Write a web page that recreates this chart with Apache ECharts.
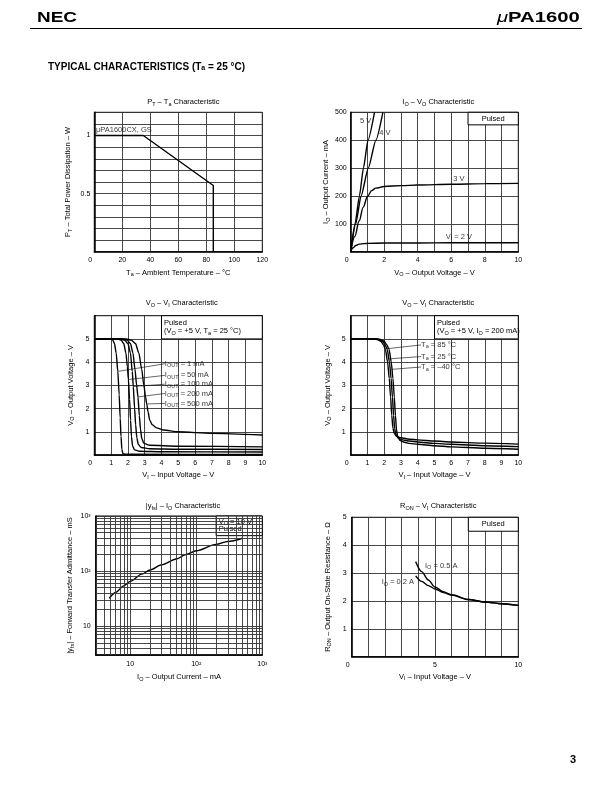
<!DOCTYPE html>
<html><head><meta charset="utf-8">
<script src="https://cdn.jsdelivr.net/npm/echarts@6/dist/echarts.min.js"></script>
<style>html,body{margin:0;padding:0;background:#fff}#c{width:612px;height:792px}</style>
</head><body><div id="c"></div>
<script>
// ---------------- data ----------------
const ptTaCurve = [[0,1],[35,1],[85,0.57],[85,0]];

const ioVo2V = [[0,0],[0.15,14],[0.3,22],[0.5,27],[0.8,29],[1,30],[2,31],[4,31],[6,32],[8,32],[10,32]];
const ioVo3V = [[0,0],[0.25,55],[0.5,110],[0.75,160],[1,198],[1.25,219],[1.5,228],[2,234],[3,237],[4,239],[6,242],[8,244],[10,245]];
const ioVo4V = [[0,0],[0.3,100],[0.62,200],[1.05,300],[1.5,400],[1.92,500]];
const ioVo5V = [[0,0],[0.26,100],[0.52,200],[0.76,300],[1.03,400],[1.42,500]];

const voVi1mA = [[0,5],[1.0,5],[1.1,4.95],[1.2,4.8],[1.3,4.4],[1.4,3.6],[1.48,2.6],[1.54,1.6],[1.59,0.8],[1.64,0.25],[1.7,0.06],[1.85,0.03],[10,0.02]];
const voVi50mA = [[0,5],[1.4,5],[1.6,4.95],[1.75,4.8],[1.88,4.4],[1.97,3.8],[2.03,3.25],[2.1,2.4],[2.16,1.5],[2.21,0.8],[2.28,0.38],[2.4,0.22],[2.7,0.16],[4,0.14],[10,0.13]];
const voVi100mA = [[0,5],[1.55,5],[1.8,4.95],[2.0,4.8],[2.15,4.4],[2.26,3.6],[2.32,2.95],[2.4,2.0],[2.46,1.3],[2.53,0.75],[2.62,0.45],[2.8,0.32],[3.3,0.27],[5,0.25],[10,0.24]];
const voVi200mA = [[0,5],[1.7,5],[1.95,4.95],[2.15,4.8],[2.3,4.4],[2.42,3.7],[2.52,3.0],[2.6,2.5],[2.68,1.7],[2.75,1.1],[2.83,0.7],[2.95,0.5],[3.3,0.42],[5,0.38],[10,0.35]];
const voVi500mA = [[0,5],[1.9,5],[2.2,4.95],[2.45,4.8],[2.65,4.4],[2.82,3.7],[2.95,3.0],[3.05,2.5],[3.12,2.2],[3.2,1.85],[3.3,1.5],[3.45,1.3],[3.7,1.17],[4.1,1.08],[5,1.0],[7,0.93],[10,0.86]];
const ioutLabels = ['1 mA','50 mA','100 mA','200 mA','500 mA'];

const voViT85 = [[0,5],[1.4,5],[1.6,4.97],[1.8,4.9],[1.95,4.75],[2.07,4.55],[2.2,4.0],[2.3,3.3],[2.38,2.5],[2.45,1.7],[2.52,1.15],[2.6,0.92],[2.75,0.8],[3,0.74],[3.5,0.68],[4,0.65],[5,0.6],[6,0.56],[8,0.51],[10,0.47]];
const voViT25 = [[0,5],[1.5,5],[1.7,4.97],[1.9,4.9],[2.05,4.75],[2.18,4.55],[2.31,4.0],[2.41,3.3],[2.49,2.5],[2.56,1.7],[2.62,1.15],[2.69,0.88],[2.85,0.72],[3.1,0.65],[3.5,0.6],[4,0.56],[5,0.5],[6,0.46],[8,0.4],[10,0.36]];
const voViTm40 = [[0,5],[1.6,5],[1.8,4.97],[2.0,4.9],[2.15,4.75],[2.29,4.55],[2.42,4.0],[2.52,3.3],[2.6,2.5],[2.67,1.7],[2.73,1.1],[2.8,0.8],[2.95,0.62],[3.2,0.55],[3.5,0.5],[4,0.46],[5,0.4],[6,0.35],[8,0.29],[10,0.25]];
const taLabels = ['85 °C','25 °C','–40 °C'];

const yfsIo = [[4.8,32],[6,41],[8,54],[10,65],[15,88],[20,105],[30,130],[50,166],[70,200],[100,234],[200,305],[300,345],[500,395]];
const logMinor = [4,5,6,7,8,9,20,30,40,50,60,70,80,90,200,300,400,500,600,700,800,900];

const ron05A = [[3.84,3.41],[4.2,3.05],[4.6,2.75],[5,2.5],[5.5,2.33],[6,2.22],[7,2.05],[8,1.96],[9,1.9],[10,1.84]];
const ron02A = [[3.84,2.9],[4.2,2.7],[4.6,2.55],[5,2.43],[5.5,2.3],[6,2.21],[7,2.05],[8,1.96],[9,1.9],[10,1.84]];

// ---------------- styling helpers ----------------
const FONT = '"Liberation Sans", Arial, sans-serif';
const GRIDC = '#333';
const rich = { s: { fontSize: 5.5, verticalAlign: 'bottom', fontFamily: FONT, color: '#000', padding:[0,0,-1,0] } };
const sub = (m, s) => m + '{s|' + s + '}';
const near = (v, t) => Math.abs(v - t) < 1e-6;
const zeroRich = { z: { fontSize: 7, fontFamily: FONT, color: '#000', padding: [0, 8, 0, 0] } };

const grids = [
  {left:94.3, top:112.3, width:168, height:139.4},
  {left:350.7, top:112.3, width:167.6, height:139.4},
  {left:94.3, top:315.7, width:168, height:139.3},
  {left:350.7, top:315.7, width:167.6, height:139.3},
  {left:95.7, top:516, width:166.6, height:139},
  {left:351.7, top:517.3, width:166.6, height:139.4}
].map(g => Object.assign({show:true, borderColor:'#000', borderWidth:1, containLabel:false}, g));

function axis(extra) {
  return Object.assign({
    type:'value',
    axisLine:{show:true, onZero:false, lineStyle:{color:'#000', width:1.5}},
    axisTick:{show:false},
    axisLabel:{color:'#000', fontSize:7, fontFamily:FONT, margin:5, showMinLabel:true, showMaxLabel:true},
    splitLine:{show:true, lineStyle:{color:GRIDC, width:0.9}},
    nameLocation:'middle',
    nameTextStyle:{color:'#000', fontSize:7.5, fontFamily:FONT, rich}
  }, extra);
}
// x labels: corner "0" nudged left like the printed sheet
function xLab(keep) {
  return {color:'#000', fontSize:7, fontFamily:FONT, margin:5, rich: zeroRich,
    formatter: v => v === 0 ? '{z|0}' : (keep(v) ? String(v) : '')};
}
function line(i, data, smooth) {
  return {type:'line', xAxisIndex:i, yAxisIndex:i, data, symbol:'none', showSymbol:false,
    smooth: smooth === undefined ? 0.35 : smooth, smoothMonotone:'x',
    lineStyle:{color:'#000', width:1.4}, animation:false, silent:true, z:3};
}
function notes(i, items, extra) {
  return Object.assign({type:'scatter', xAxisIndex:i, yAxisIndex:i, symbolSize:0, silent:true, animation:false, z:6,
    data: items.map(t => ({value:t.pos, label:{show:true, position:'right', distance:0, formatter:t.text,
      color:'#000', fontSize:7.5, fontFamily:FONT, rich}}))}, extra || {});
}
function box(a, b, text, pos, align, lh) {
  return [{coord:a, label:{show:true, position:pos, distance:3, formatter:text, color:'#000', fontSize:7.5,
    fontFamily:FONT, lineHeight:lh || 7.8, align:align || 'center', rich}}, {coord:b}];
}
const boxStyle = {color:'#fff', borderColor:'#000', borderWidth:1, opacity:1};
function arrows(pairs) {
  return {silent:true, symbol:['none','arrow'], symbolSize:[0,5], animation:false,
    lineStyle:{color:'#000', width:0.6, type:'solid'}, label:{show:false},
    data: pairs.map(p => [{coord:p[0]}, {coord:p[1]}])};
}
const title = (text, x, y) => ({text, left:x, top:y, textAlign:'center',
  textStyle:{fontSize:7.5, fontWeight:'normal', color:'#000', fontFamily:FONT, rich}});
const logFmt = v => {
  const l = Math.log10(v), r = Math.round(l);
  if (Math.abs(l - r) > 1e-4) return '';
  return r === 1 ? '10' : r === 2 ? '10²' : r === 3 ? '10³' : '';
};

// ---------------- option ----------------
const option = {
  backgroundColor:'#fff',
  animation:false,
  title:[
    title(sub('P','T') + ' – ' + sub('T','a') + ' Characteristic', 178.3, 93),
    title(sub('I','O') + ' – ' + sub('V','O') + ' Characteristic', 433.3, 93),
    title(sub('V','O') + ' – ' + sub('V','I') + ' Characteristic', 176.7, 294),
    title(sub('V','O') + ' – ' + sub('V','I') + ' Characteristic', 433.3, 294),
    title('|' + sub('y','fs') + '| – ' + sub('I','O') + ' Characteristic', 178, 497),
    title(sub('R','ON') + ' – ' + sub('V','I') + ' Characteristic', 433.3, 497)
  ],
  grid: grids,
  xAxis:[
    axis({gridIndex:0, min:0, max:120, interval:20, name: sub('T','a') + ' – Ambient Temperature – °C', nameGap:17,
      axisLabel: xLab(v => true)}),
    axis({gridIndex:1, min:0, max:10, interval:1, name: sub('V','O') + ' – Output Voltage – V', nameGap:17,
      axisLabel: xLab(v => Math.round(v) % 2 === 0)}),
    axis({gridIndex:2, min:0, max:10, interval:1, name: sub('V','I') + ' – Input Voltage – V', nameGap:16,
      axisLabel: xLab(v => true)}),
    axis({gridIndex:3, min:0, max:10, interval:1, name: sub('V','I') + ' – Input Voltage – V', nameGap:16,
      axisLabel: xLab(v => true)}),
    axis({gridIndex:4, type:'log', logBase:10, min:3, max:1000, name: sub('I','O') + ' – Output Current – mA', nameGap:18,
      axisLabel:{color:'#000', fontSize:7, fontFamily:FONT, margin:6, formatter: logFmt}}),
    axis({gridIndex:5, min:0, max:10, interval:1, name: sub('V','I') + ' – Input Voltage – V', nameGap:16,
      axisLabel: xLab(v => Math.round(v) % 5 === 0)})
  ],
  yAxis:[
    axis({gridIndex:0, min:0, max:1.2, interval:0.1, nameRotate:90, name: sub('P','T') + ' – Total Power Dissipation – W', nameGap:22,
      axisLabel:{color:'#000', fontSize:7, fontFamily:FONT, margin:4, formatter: v => near(v,0.5) ? '0.5' : near(v,1) ? '1' : ''}}),
    axis({gridIndex:1, min:0, max:500, interval:100, nameRotate:90, name: sub('I','O') + ' – Output Current – mA', nameGap:17,
      axisLabel:{color:'#000', fontSize:7, fontFamily:FONT, margin:4, formatter: v => v === 0 ? '' : String(v)}}),
    axis({gridIndex:2, min:0, max:6, interval:1, nameRotate:90, name: sub('V','O') + ' – Output Voltage – V', nameGap:19.5,
      axisLabel:{color:'#000', fontSize:7, fontFamily:FONT, margin:5, formatter: v => (v === 0 || v === 6) ? '' : String(v)}}),
    axis({gridIndex:3, min:0, max:6, interval:1, nameRotate:90, name: sub('V','O') + ' – Output Voltage – V', nameGap:19,
      axisLabel:{color:'#000', fontSize:7, fontFamily:FONT, margin:5, formatter: v => (v === 0 || v === 6) ? '' : String(v)}}),
    axis({gridIndex:4, type:'log', logBase:10, min:3, max:1000, nameRotate:90, name: '|' + sub('y','fs') + '| – Forward Transfer Admittance – mS', nameGap:21.5,
      axisLabel:{color:'#000', fontSize:7, fontFamily:FONT, margin:5, formatter: logFmt}}),
    axis({gridIndex:5, min:0, max:5, interval:1, nameRotate:90, name: sub('R','ON') + ' – Output On-State Resistance – Ω', nameGap:20,
      axisLabel:{color:'#000', fontSize:7, fontFamily:FONT, margin:5, formatter: v => v === 0 ? '' : String(v)}})
  ],
  series:[
    // chart 1
    line(0, ptTaCurve, false),
    notes(0, [{pos:[1.2,1.052], text:'μPA1600CX, GS'}]),
    // chart 2
    line(1, ioVo2V), line(1, ioVo3V), line(1, ioVo4V, 0.2), line(1, ioVo5V, 0.2),
    notes(1, [
      {pos:[0.56,469], text:'5 V'}, {pos:[1.71,425], text:'4 V'},
      {pos:[6.12,260], text:'3 V'}, {pos:[5.67,54], text: sub('V','I') + ' = 2 V'}
    ], {markArea:{silent:true, itemStyle:boxStyle, data:[box([7,455],[10,500],'Pulsed','inside')]}}),
    // chart 3
    line(2, voVi1mA, 0.25), line(2, voVi50mA, 0.25), line(2, voVi100mA, 0.25), line(2, voVi200mA, 0.25), line(2, voVi500mA, 0.25),
    notes(2, [
      {pos:[4.2,3.93], text: sub('I','OUT') + ' = ' + ioutLabels[0]},
      {pos:[4.2,3.43], text: sub('I','OUT') + ' = ' + ioutLabels[1]},
      {pos:[4.2,3.05], text: sub('I','OUT') + ' = ' + ioutLabels[2]},
      {pos:[4.2,2.65], text: sub('I','OUT') + ' = ' + ioutLabels[3]},
      {pos:[4.2,2.22], text: sub('I','OUT') + ' = ' + ioutLabels[4]}
    ], {
      markLine: arrows([[[4.2,3.93],[1.4,3.6]],[[4.2,3.43],[2.03,3.25]],[[4.2,3.05],[2.32,2.95]],[[4.2,2.65],[2.6,2.5]],[[4.2,2.22],[3.12,2.2]]]),
      markArea:{silent:true, itemStyle:boxStyle, data:[box([4,6],[10,5],'Pulsed\n(' + sub('V','O') + ' = +5 V, ' + sub('T','a') + ' = 25 °C)','insideLeft','left')]}
    }),
    // chart 4
    line(3, voViT85, 0.25), line(3, voViT25, 0.25), line(3, voViTm40, 0.25),
    notes(3, [
      {pos:[4.2,4.74], text: sub('T','a') + ' = ' + taLabels[0]},
      {pos:[4.2,4.24], text: sub('T','a') + ' = ' + taLabels[1]},
      {pos:[4.2,3.79], text: sub('T','a') + ' = ' + taLabels[2]}
    ], {
      markLine: arrows([[[4.2,4.74],[2.06,4.57]],[[4.2,4.24],[2.28,4.14]],[[4.2,3.79],[2.46,3.69]]]),
      markArea:{silent:true, itemStyle:boxStyle, data:[box([5,6],[10,5],'Pulsed\n(' + sub('V','O') + ' = +5 V, ' + sub('I','O') + ' = 200 mA)','insideLeft','left')]}
    }),
    // chart 5
    line(4, yfsIo, 0.3),
    {type:'scatter', xAxisIndex:4, yAxisIndex:4, data:[], silent:true, animation:false, z:1,
      markLine:{silent:true, symbol:'none', animation:false, label:{show:false},
        lineStyle:{color:GRIDC, width:0.9, type:'solid'},
        data: logMinor.map(v => ({xAxis:v})).concat(logMinor.map(v => ({yAxis:v})))}},
    notes(4, [], {markArea:{silent:true, itemStyle:boxStyle, data:[box([200,1000],[1000,440], sub('V','O') + ' = 10 V\nPulsed','insideLeft','left',7.2)]}}),
    // chart 6
    line(5, ron05A, 0.3), line(5, ron02A, 0.3),
    notes(5, [
      {pos:[4.4,3.27], text: sub('I','O') + ' = 0.5 A'},
      {pos:[1.8,2.67], text: sub('I','O') + ' = 0.2 A'}
    ], {markArea:{silent:true, itemStyle:boxStyle, data:[box([7,5],[10,4.5],'Pulsed','inside')]}})
  ],
  graphic:[
    {type:'text', x:37, y:18, scaleX:1.35, style:{text:'NEC', fontSize:14, fontWeight:900, fontFamily:FONT, fill:'#000',
      textAlign:'left', textVerticalAlign:'middle', align:'left', verticalAlign:'middle'}},
    {type:'text', x:497, y:18, scaleX:1.35, style:{text:'{m|μ}PA1600', fontSize:15, fontWeight:'bold', fontFamily:FONT, fill:'#000',
      textAlign:'left', textVerticalAlign:'middle', align:'left', verticalAlign:'middle',
      rich:{m:{fontSize:15, fontStyle:'italic', fontWeight:'normal', fontFamily:FONT}}}},
    {type:'line', shape:{x1:30, y1:28.5, x2:582, y2:28.5}, style:{stroke:'#000', lineWidth:1.2}},
    {type:'text', x:48, y:67, style:{text:'TYPICAL CHARACTERISTICS (T{s|a} = 25 °C)', fontSize:10, fontWeight:'bold', fontFamily:FONT, fill:'#000',
      textAlign:'left', textVerticalAlign:'middle', align:'left', verticalAlign:'middle',
      rich:{s:{fontSize:7, fontWeight:'bold', verticalAlign:'bottom', fontFamily:FONT}}}},
    {type:'text', x:573, y:760, style:{text:'3', fontSize:11, fontWeight:'bold', fontFamily:FONT, fill:'#000',
      textAlign:'center', textVerticalAlign:'middle', align:'center', verticalAlign:'middle'}}
  ]
};
const chart = echarts.init(document.getElementById('c'), null, {renderer:'canvas'});
chart.setOption(option);
</script>
</body></html>
